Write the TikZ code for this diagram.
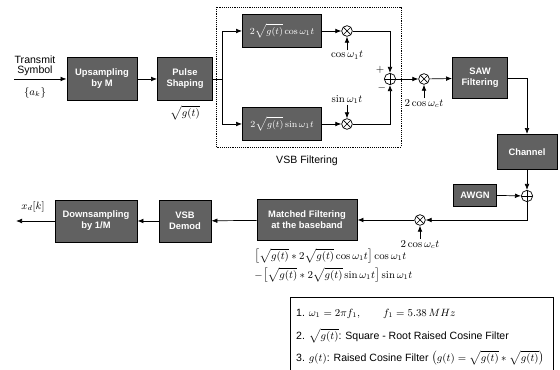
\documentclass[tikz,border=0pt]{standalone}
\usepackage{fontspec}
\setsansfont{Liberation Sans}
\usetikzlibrary{positioning, arrows.meta}

\begin{document}
\begin{tikzpicture}[x=0.3mm, y=-0.3mm, every node/.style={font=\sffamily\small, align=center}, arrow/.style={-{Latex[length=1.8mm, width=1.4mm]}, semithick}]
        \tikzstyle{block} = [rectangle, draw=black, thick, fill=black!62, text=white, font=\sffamily\bfseries\footnotesize, inner sep=1pt]
        \tikzstyle{mixer} = [circle, draw=black, semithick, minimum size=3.2mm, inner sep=0pt, path picture={\draw (path picture bounding box.north west) -- (path picture bounding box.south east) (path picture bounding box.south west) -- (path picture bounding box.north east);}]
        \tikzstyle{adder} = [circle, draw=black, semithick, minimum size=3.4mm, inner sep=0pt, path picture={\draw (path picture bounding box.north) -- (path picture bounding box.south) (path picture bounding box.west) -- (path picture bounding box.east);}]
        \tikzstyle{mathtext} = [font=\small, inner sep=1pt]
        \tikzstyle{legendrow} = [anchor=west, inner sep=0pt]

        \useasboundingbox (0,0) rectangle (560,370);

        % transmitter
        \coordinate (src) at (14,79);
        \node (txlabel) at (35,66) {Transmit\\[-2pt]Symbol};
        \node[mathtext] (ak) at (35,93) {$\{a_k\}$};
        \node[block, minimum width=21mm, minimum height=13mm] (up) at (102,79) {Upsampling\\by M};
        \node[block, minimum width=16.5mm, minimum height=13mm] (pulse) at (185,79) {Pulse\\Shaping};
        \node[mathtext, below=1mm of pulse] (sqg) {$\sqrt{g(t)}$};
        \coordinate (split) at (222,79);

        % VSB filtering
        \draw[densely dotted, semithick] (216,7) rectangle (401,147);
        \node (vsblabel) at (307,161) {VSB Filtering};
        \node[block, minimum width=23.7mm, minimum height=10mm] (fcos) at (282,31) {$2\sqrt{g(t)}\cos\omega_1 t$};
        \node[block, minimum width=23.7mm, minimum height=10mm] (fsin) at (282,124) {$2\sqrt{g(t)}\sin\omega_1 t$};
        \node[mixer] (mcos) at (347,31) {};
        \node[mixer] (msin) at (347,124) {};
        \node[mathtext, below=4mm of mcos] (coslo) {$\cos\omega_1 t$};
        \node[mathtext, above=4mm of msin] (sinlo) {$\sin\omega_1 t$};
        \node[adder] (add) at (390,79) {};
        \node[mathtext, above left=0mm and 0mm of add] (plus) {$+$};
        \node[mathtext, below left=0mm and -0.5mm of add] (minus) {$-$};

        % upconversion and channel
        \node[mixer] (mc) at (424,79) {};
        \node[mathtext, below=4mm of mc] (clo) {$2\cos\omega_c t$};
        \node[block, minimum width=16.5mm, minimum height=12.3mm] (saw) at (480,78) {SAW\\Filtering};
        \node[block, minimum width=18mm, minimum height=10.5mm] (chan) at (527,152) {Channel};
        \node[adder] (add2) at (527,196) {};
        \node[block, minimum width=13mm, minimum height=6.6mm] (awgn) at (475,195) {AWGN};

        % receiver
        \node[mixer] (mr) at (420,220) {};
        \node[mathtext, below=4mm of mr] (rlo) {$2\cos\omega_c t$};
        \node[block, minimum width=30mm, minimum height=12.3mm] (mf) at (307,220) {Matched Filtering\\at the baseband};
        \node[block, minimum width=15.6mm, minimum height=12.6mm] (demod) at (185,221) {VSB\\Demod};
        \node[block, minimum width=24.6mm, minimum height=12.6mm] (down) at (96,221) {Downsampling\\by 1/M};
        \coordinate (out) at (16,221);
        \node[mathtext] (xd) at (33,207) {$x_d[k]$};
        \node[mathtext, anchor=west] (mfcos) at (253,256) {$\bigl[\sqrt{g(t)}*2\sqrt{g(t)}\cos\omega_1 t\bigr]\cos\omega_1 t$};
        \node[mathtext, anchor=west] (mfsin) at (253,275) {$-\bigl[\sqrt{g(t)}*2\sqrt{g(t)}\sin\omega_1 t\bigr]\sin\omega_1 t$};

        % legend
        \draw[semithick] (290,372) |- (553,297) -- (553,372);
        \node[legendrow] (leg1) at (296,314) {1. $\omega_1 = 2\pi f_1,\qquad f_1 = 5.38\,MHz$};
        \node[legendrow] (leg2) at (296,336) {2. $\sqrt{g(t)}$: Square - Root Raised Cosine Filter};
        \node[legendrow] (leg3) at (296,358) {3. $g(t)$: Raised Cosine Filter $\bigl(g(t)=\sqrt{g(t)}*\sqrt{g(t)}\bigr)$};

        \draw[arrow] (src) -- (up);
        \draw[arrow] (up) -- (pulse);
        \draw[semithick] (pulse) -- (split);
        \draw[arrow] (split) |- (fcos);
        \draw[arrow] (split) |- (fsin);
        \draw[arrow] (fcos) -- (mcos);
        \draw[arrow] (fsin) -- (msin);
        \draw[arrow] (coslo) -- (mcos);
        \draw[arrow] (sinlo) -- (msin);
        \draw[arrow] (mcos) -| (add);
        \draw[arrow] (msin) -| (add);
        \draw[arrow] (add) -- (mc);
        \draw[arrow] (clo) -- (mc);
        \draw[arrow] (mc) -- (saw);
        \draw[arrow] (saw) -| (chan);
        \draw[arrow] (chan) -- (add2);
        \draw[arrow] (awgn) -- (add2);
        \draw[arrow] (add2) |- (mr);
        \draw[arrow] (rlo) -- (mr);
        \draw[arrow] (mr) -- (mf);
        \draw[arrow] (mf) -- (demod);
        \draw[arrow] (demod) -- (down);
        \draw[arrow] (down) -- (out);
    \end{tikzpicture}
\end{document}
